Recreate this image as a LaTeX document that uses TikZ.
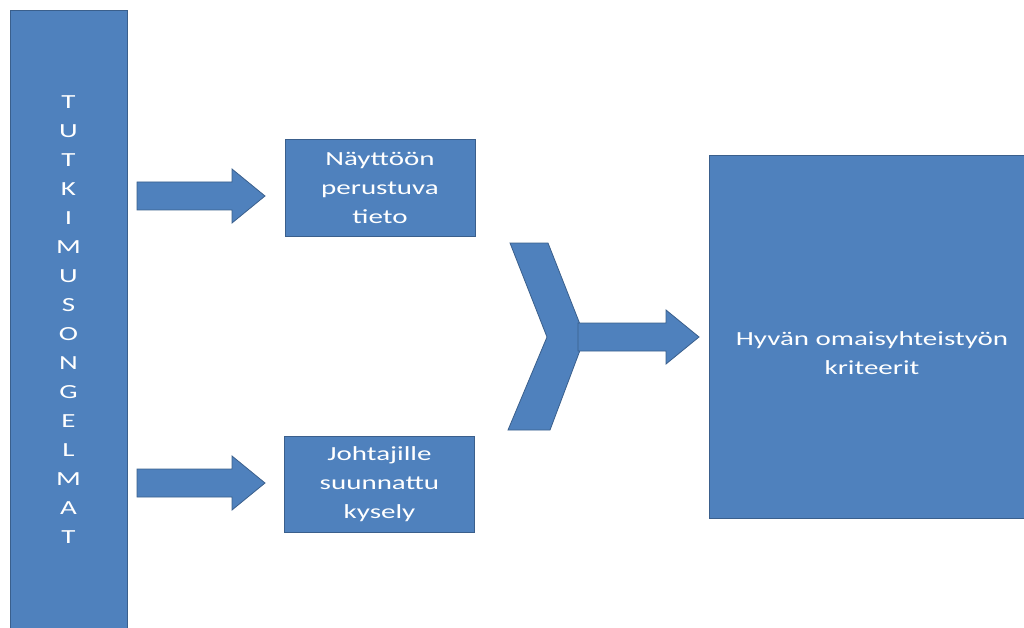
\documentclass[tikz,border=0pt]{standalone}
\usepackage{fontspec}
\setmainfont{Carlito}[FakeStretch=1.45]
\usepackage{tikz}
\usetikzlibrary{calc}
\usetikzlibrary{positioning}
\definecolor{mblue}{RGB}{79,129,189}
\definecolor{mborder}{RGB}{58,95,140}
\tikzset{shp/.style = {fill=mblue, draw=mborder, line width=0.8pt},
         lbl/.style = {text=white, align=center, inner sep=0pt,
                       font=\fontsize{20}{29}\selectfont},
         box/.style = {shp, rectangle, inner sep=0pt, lbl}}
\newcommand\blockarrow[2]{%
  \draw[shp] let \p1 = (#1), \p2 = (#2) in
    (\x1, \y1+14pt) -- (\x2-33pt, \y1+14pt) -- (\x2-33pt, \y1+27pt) -- (\x2, \y1)
    -- (\x2-33pt, \y1-27pt) -- (\x2-33pt, \y1-14pt) -- (\x1, \y1-14pt) -- cycle;}

\begin{document}
\begin{tikzpicture}[x=1pt, y=-1pt]
    \useasboundingbox (0,0) rectangle (1024,628);
    \clip (0,0) rectangle (1024,628);
    \node [box, minimum width=117pt, minimum height=700pt] (bar) at (68.5,360) {};
    \node [lbl] (barlbl) at (68.5,320) {T\\U\\T\\K\\I\\M\\U\\S\\O\\N\\G\\E\\L\\M\\A\\T};
    \node [box, minimum width=190pt, minimum height=97pt] (tieto) at (380,187.5) {Näyttöön\\perustuva\\tieto};
    \node [box, minimum width=190pt, minimum height=96pt] (kysely) at (379.5,484) {Johtajille\\suunnattu\\kysely};
    \node [box, minimum width=400pt, minimum height=363pt] (krit) at (909,336.5) {};
    \node [lbl] (kritlbl) at (872,353) {Hyvän omaisyhteistyön\\kriteerit};
    \coordinate (a1) at (137,196);
    \coordinate (a1tip) at (265,196);
    \coordinate (a2) at (137,483);
    \coordinate (a2tip) at (265,483);
    \blockarrow{a1}{a1tip}
    \blockarrow{a2}{a2tip}
    \draw [shp] (510,243) -- (548,243) -- (585,337) -- (550,430) -- (508,430) -- (547,337) -- cycle;
    \coordinate (m1) at (578,337);
    \coordinate (m1tip) at (699,337);
    \blockarrow{m1}{m1tip}
\end{tikzpicture}
\end{document}
